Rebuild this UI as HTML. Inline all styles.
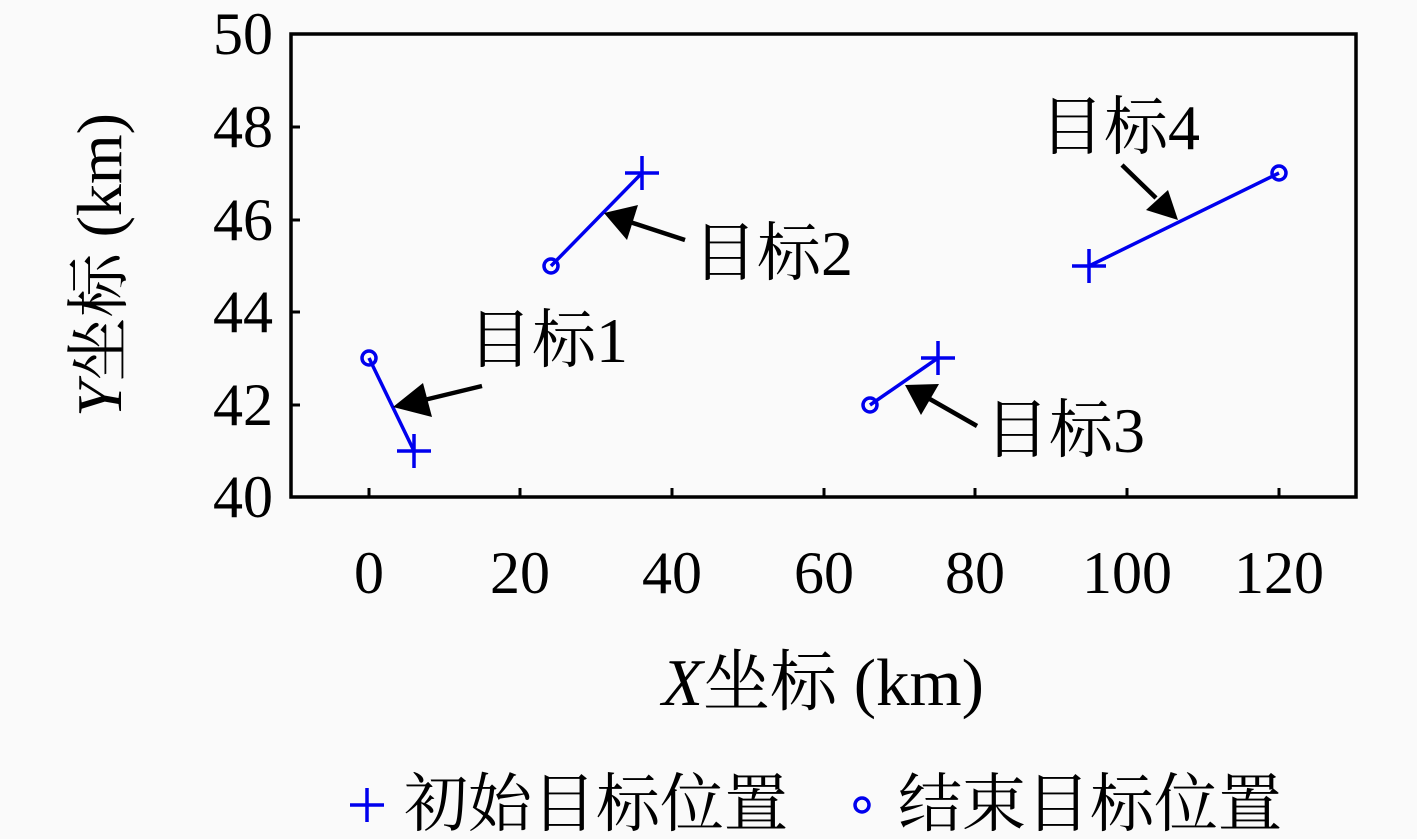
<!DOCTYPE html>
<html><head><meta charset="utf-8"><style>
html,body{margin:0;padding:0;background:#fafafa;}
svg{display:block;}
text{font-family:"Liberation Serif","Noto Serif CJK SC",serif;fill:#000;}
</style></head><body>
<svg width="1417" height="839" viewBox="0 0 1417 839" xmlns="http://www.w3.org/2000/svg">
<rect x="0" y="0" width="1417" height="839" fill="#fafafa"/>
<rect x="291" y="34" width="1065" height="463" fill="none" stroke="#000" stroke-width="3.5"/>
<g stroke="#000" stroke-width="3">
<line x1="369" y1="497" x2="369" y2="488"/><line x1="520" y1="497" x2="520" y2="488"/>
<line x1="672" y1="497" x2="672" y2="488"/><line x1="824" y1="497" x2="824" y2="488"/>
<line x1="975" y1="497" x2="975" y2="488"/><line x1="1127" y1="497" x2="1127" y2="488"/>
<line x1="1279" y1="497" x2="1279" y2="488"/>
<line x1="291" y1="127" x2="300" y2="127"/><line x1="291" y1="220" x2="300" y2="220"/>
<line x1="291" y1="312" x2="300" y2="312"/><line x1="291" y1="405" x2="300" y2="405"/>
</g>
<g font-size="60" text-anchor="middle">
<text x="369" y="593">0</text><text x="520" y="593">20</text><text x="672" y="593">40</text>
<text x="824" y="593">60</text><text x="975" y="593">80</text><text x="1127" y="593">100</text>
<text x="1279" y="593">120</text>
</g>
<g font-size="60" text-anchor="end">
<text x="273" y="517">40</text><text x="273" y="425">42</text><text x="273" y="332">44</text>
<text x="273" y="240">46</text><text x="273" y="147">48</text><text x="273" y="54">50</text>
</g>
<text x="823" y="705" font-size="67" text-anchor="middle"><tspan font-style="italic">X</tspan>坐标 (km)</text>
<text transform="translate(121,265) rotate(-90)" font-size="64" text-anchor="middle"><tspan font-style="italic">Y</tspan>坐标 (km)</text>
<g stroke="#0000ee" stroke-width="3.5" fill="none">
<line x1="414" y1="451" x2="369" y2="358"/>
<line x1="642" y1="173" x2="551" y2="266"/>
<line x1="938" y1="358" x2="870" y2="405"/>
<line x1="1089" y1="266" x2="1279" y2="173"/>
<circle cx="369" cy="358" r="7"/><circle cx="551" cy="266" r="7"/>
<circle cx="870" cy="405" r="7"/><circle cx="1279" cy="173" r="7"/>
<path d="M397 451h34M414 434v34M625 173h34M642 156v34M921 358h34M938 341v34M1072 266h34M1089 249v34"/>
</g>
<g stroke="#000" stroke-width="4.5">
<line x1="482" y1="386" x2="420" y2="401"/>
<line x1="685" y1="240" x2="630" y2="222"/>
<line x1="977" y1="426" x2="928" y2="398"/>
<line x1="1122" y1="165" x2="1156" y2="198"/>
</g>
<g fill="#000">
<polygon points="393,407 423,383 432,417"/>
<polygon points="604,213 638,205 627,240"/>
<polygon points="905,385 939,384 921,415"/>
<polygon points="1178,220 1146,210 1168,190"/>
</g>
<g font-size="64">
<text x="468" y="362">目标1</text>
<text x="693" y="275">目标2</text>
<text x="985" y="452">目标3</text>
<text x="1040" y="149">目标4</text>
</g>
<g stroke="#0000ee" stroke-width="3.5" fill="none">
<path d="M350 805h34M367 788v34"/>
<circle cx="862" cy="805" r="7"/>
</g>
<g font-size="64">
<text x="404" y="826">初始目标位置</text>
<text x="898" y="826">结束目标位置</text>
</g>
</svg>
</body></html>
